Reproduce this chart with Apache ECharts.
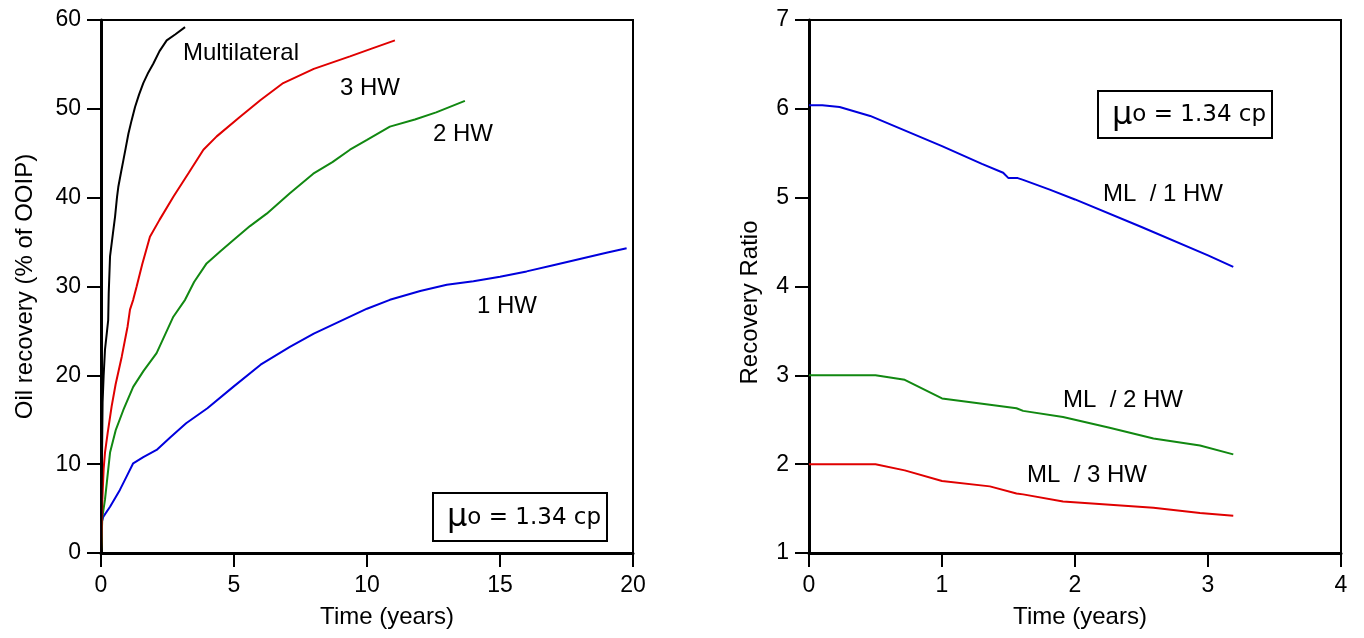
<!DOCTYPE html>
<html><head><meta charset="utf-8">
<script src="https://cdn.jsdelivr.net/npm/echarts@6/dist/echarts.min.js"></script>
<style>html,body{margin:0;padding:0;background:#fff}#c{width:1364px;height:638px}</style>
</head><body><div id="c"></div>
<script>
// Left: oil recovery (% of OOIP) vs time (years)
const tML  = [0,0.02,0.06,0.1,0.15,0.22,0.27,0.29,0.34,0.45,0.53,0.6,0.65,0.75,0.84,0.93,1.03,1.15,1.28,1.43,1.59,1.78,1.97,2.2,2.47,2.8,3.16];
const yML  = [0,6,17,20,22.9,24.8,26.2,29.2,33.4,36,37.9,40,41.2,42.8,44.2,45.6,47.2,48.7,50.2,51.6,52.9,54.1,55.1,56.5,57.7,58.4,59.2];
const t3HW = [0,0.05,0.1,0.15,0.25,0.4,0.55,0.78,1.0,1.09,1.21,1.34,1.55,1.84,2.2,2.72,3.3,3.85,4.35,5.23,6.0,6.85,8.0,9.36,10.2,11.05];
const y3HW = [0,6,9.5,11.3,13.5,16.5,19,22.1,25.5,27.4,28.5,30,32.5,35.6,37.5,40.1,42.8,45.4,46.9,49.1,51,52.9,54.5,55.9,56.8,57.7];
const t2HW = [0,0.05,0.15,0.34,0.55,0.84,1.21,1.6,2.09,2.72,3.16,3.5,3.97,4.5,4.97,5.6,6.23,7.1,7.98,8.7,9.36,10.0,10.86,11.8,12.6,13.68];
const y2HW = [0,4,6,11.3,13.8,16.1,18.7,20.5,22.5,26.6,28.5,30.5,32.6,34,35.2,36.8,38.2,40.5,42.7,44,45.4,46.5,48,48.8,49.6,50.9];
const t1HW = [0,0.03,0.09,0.34,0.71,0.96,1.21,1.59,2.09,2.6,3.2,4.0,4.97,6.0,7.1,8.0,9.0,10.0,10.86,12.0,13.0,14.0,15.0,16.0,17.0,18.0,19.0,19.76];
const y1HW = [1.5,3.5,4.1,5.2,7.1,8.6,10.1,10.8,11.6,13,14.6,16.3,18.7,21.2,23.2,24.7,26.1,27.5,28.5,29.5,30.2,30.6,31.1,31.7,32.4,33.1,33.8,34.3];
// Right: recovery ratio vs time (years)
const tR1 = [0,0.1,0.23,0.46,1.0,1.3,1.46,1.5,1.57,1.61,1.81,2.0,2.5,3.0,3.19];
const yR1 = [6.04,6.04,6.02,5.92,5.58,5.38,5.28,5.22,5.22,5.2,5.09,4.98,4.67,4.35,4.22];
const tR2 = [0,0.5,0.72,1.0,1.36,1.56,1.61,1.91,2.26,2.59,2.94,3.19];
const yR2 = [3.0,3.0,2.95,2.74,2.67,2.63,2.6,2.53,2.41,2.29,2.21,2.11];
const tR3 = [0,0.5,0.72,1.0,1.36,1.56,1.61,1.91,2.59,2.94,3.19];
const yR3 = [2.0,2.0,1.93,1.81,1.75,1.67,1.66,1.58,1.51,1.45,1.42];

const pairs = (t, y) => t.map((v, i) => [v, y[i]]);
const FONT = '"Liberation Sans", Arial, sans-serif';
const chart = echarts.init(document.getElementById('c'));

function xAxisCfg(gi, max, interval, shift) {
  return {
    gridIndex: gi, type: 'value', min: 0, max: max, interval: interval,
    name: 'Time (years)', nameLocation: 'middle', nameGap: 52,
    nameTextStyle: { fontFamily: FONT, fontSize: 24, color: '#000', padding: [0, 0, 0, shift] },
    axisLine: { show: true, onZero: false, lineStyle: { color: '#000', width: 3 } },
    axisTick: { show: true, inside: false, length: 14, lineStyle: { color: '#000', width: 2 } },
    axisLabel: { fontFamily: FONT, fontSize: 23, color: '#000', margin: 21 },
    splitLine: { show: false }
  };
}
function yAxisCfg(gi, min, max, interval, name, gap, shift) {
  return {
    gridIndex: gi, type: 'value', min: min, max: max, interval: interval,
    name: name, nameLocation: 'middle', nameGap: gap,
    nameTextStyle: { fontFamily: FONT, fontSize: 24, color: '#000', padding: [0, shift, 0, 0] },
    axisLine: { show: true, onZero: false, lineStyle: { color: '#000', width: 3 } },
    axisTick: { show: true, inside: false, length: 14, lineStyle: { color: '#000', width: 2 } },
    axisLabel: { fontFamily: FONT, fontSize: 23, color: '#000', margin: 20 },
    splitLine: { show: false }
  };
}
function line(name, data, color, xi, yi) {
  return { name, type: 'line', xAxisIndex: xi, yAxisIndex: yi, data, showSymbol: false,
    symbol: 'none', lineStyle: { color, width: 2 }, itemStyle: { color }, animation: false };
}
function txt(x, y, s) {
  return { type: 'text', x, y, style: { text: s, font: '24px ' + FONT, fill: '#000', verticalAlign: 'middle' } };
}
function muBox(x, y, w, h) {
  return [
    { type: 'rect', shape: { x, y, width: w, height: h }, style: { fill: '#fff', stroke: '#000', lineWidth: 2 } },
    { type: 'text', x: x + 14, y: y + h / 2 + 1, style: {
        text: '{m|μ}{n|o = 1.34 cp}', verticalAlign: 'middle',
        rich: { m: { font: '32px "DejaVu Sans", sans-serif', fill: '#000' },
                n: { font: '23px "DejaVu Sans", sans-serif', fill: '#000' } } } }
  ];
}

chart.setOption({
  animation: false,
  grid: [
    { left: 101, top: 20, width: 532, height: 533, show: true, borderColor: '#000', borderWidth: 2, backgroundColor: 'transparent' },
    { left: 809, top: 20, width: 532, height: 533, show: true, borderColor: '#000', borderWidth: 2, backgroundColor: 'transparent' }
  ],
  xAxis: [ xAxisCfg(0, 20, 5, 40), xAxisCfg(1, 4, 1, 10) ],
  yAxis: [ yAxisCfg(0, 0, 60, 10, 'Oil recovery (% of OOIP)', 64, 0), yAxisCfg(1, 1, 7, 1, 'Recovery Ratio', 47, 32) ],
  series: [
    line('1 HW', pairs(t1HW, y1HW), '#0000dd', 0, 0),
    line('2 HW', pairs(t2HW, y2HW), '#118811', 0, 0),
    line('3 HW', pairs(t3HW, y3HW), '#e00000', 0, 0),
    line('Multilateral', pairs(tML, yML), '#000000', 0, 0),
    line('ML / 1 HW', pairs(tR1, yR1), '#0000dd', 1, 1),
    line('ML / 2 HW', pairs(tR2, yR2), '#118811', 1, 1),
    line('ML / 3 HW', pairs(tR3, yR3), '#e00000', 1, 1)
  ],
  graphic: [
    txt(183, 53, 'Multilateral'),
    txt(340, 88, '3 HW'),
    txt(433, 134, '2 HW'),
    txt(477, 306, '1 HW'),
    txt(1103, 194, 'ML  / 1 HW'),
    txt(1063, 400, 'ML  / 2 HW'),
    txt(1027, 475, 'ML  / 3 HW'),
    ...muBox(433, 493, 174, 48),
    ...muBox(1098, 91, 174, 47)
  ]
});
</script></body></html>
